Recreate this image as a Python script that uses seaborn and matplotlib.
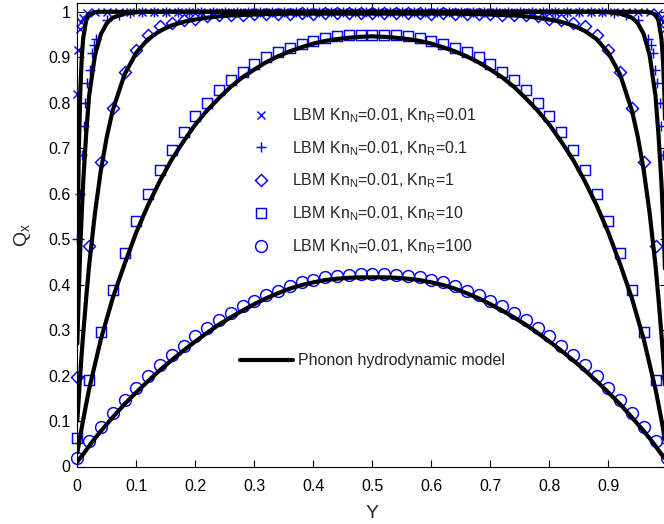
import matplotlib
matplotlib.use('Agg')
import matplotlib.pyplot as plt
import seaborn as sns
from matplotlib.ticker import FormatStrFormatter, MultipleLocator

# LBM grid (circles, squares, diamonds)
y_lbm = [0.00, 0.02, 0.04, 0.06, 0.08, 0.10, 0.12, 0.14, 0.16, 0.18, 0.20, 0.22, 0.24,
         0.26, 0.28, 0.30, 0.32, 0.34, 0.36, 0.38, 0.40, 0.42, 0.44, 0.46, 0.48, 0.50,
         0.52, 0.54, 0.56, 0.58, 0.60, 0.62, 0.64, 0.66, 0.68, 0.70, 0.72, 0.74, 0.76,
         0.78, 0.80, 0.82, 0.84, 0.86, 0.88, 0.90, 0.92, 0.94, 0.96, 0.98, 1.00]

q_lbm_kr100 = [0.019, 0.055, 0.086, 0.117, 0.146, 0.172, 0.198, 0.224, 0.246, 0.265, 0.286, 0.304, 0.323,
               0.337, 0.352, 0.365, 0.378, 0.387, 0.398, 0.406, 0.411, 0.416, 0.420, 0.422, 0.424, 0.424,
               0.424, 0.422, 0.420, 0.416, 0.411, 0.406, 0.398, 0.387, 0.378, 0.365, 0.352, 0.337, 0.323,
               0.304, 0.286, 0.265, 0.246, 0.224, 0.198, 0.172, 0.146, 0.117, 0.086, 0.055, 0.019]

q_lbm_kr10 = [0.063, 0.190, 0.295, 0.389, 0.470, 0.539, 0.600, 0.651, 0.697, 0.736, 0.770, 0.800, 0.827,
              0.849, 0.868, 0.886, 0.900, 0.911, 0.921, 0.930, 0.936, 0.942, 0.946, 0.948, 0.949, 0.949,
              0.949, 0.948, 0.946, 0.942, 0.936, 0.930, 0.921, 0.911, 0.900, 0.886, 0.868, 0.849, 0.827,
              0.800, 0.770, 0.736, 0.697, 0.651, 0.600, 0.539, 0.470, 0.389, 0.295, 0.190, 0.063]

q_lbm_kr1 = [0.197, 0.485, 0.670, 0.789, 0.867, 0.916, 0.948, 0.969, 0.975, 0.982, 0.985, 0.990, 0.992,
             0.994, 0.993, 0.995, 0.996, 0.995, 0.996, 0.997, 0.996, 0.997, 0.997, 0.997, 0.997, 0.997,
             0.997, 0.997, 0.997, 0.997, 0.996, 0.997, 0.996, 0.995, 0.996, 0.995, 0.993, 0.994, 0.992,
             0.990, 0.985, 0.982, 0.975, 0.969, 0.948, 0.916, 0.867, 0.789, 0.670, 0.485, 0.197]

# LBM, Kn_R = 0.1 (finer near the walls)
y_lbm_kr01 = [0.000, 0.004, 0.008, 0.011, 0.013, 0.017, 0.021, 0.025, 0.028, 0.032, 0.05, 0.07, 0.09, 0.11,
              0.13, 0.15, 0.17, 0.19, 0.21, 0.23, 0.25, 0.27, 0.29, 0.31, 0.33, 0.35, 0.37, 0.39, 0.41,
              0.43, 0.45, 0.47, 0.49, 0.51, 0.53, 0.55, 0.57, 0.59, 0.61, 0.63, 0.65, 0.67, 0.69, 0.71,
              0.73, 0.75, 0.77, 0.79, 0.81, 0.83, 0.85, 0.87, 0.89, 0.91, 0.93, 0.95,
              0.968, 0.972, 0.975, 0.979, 0.983, 0.987, 0.989, 0.992, 0.996, 1.000]
q_lbm_kr01 = [0.500, 0.600, 0.686, 0.748, 0.800, 0.843, 0.873, 0.910, 0.926, 0.940, 0.983, 0.993, 0.997, 0.999,
              1.0, 1.0, 1.0, 1.0, 1.0, 1.0, 1.0, 1.0, 1.0, 1.0, 1.0, 1.0, 1.0, 1.0, 1.0,
              1.0, 1.0, 1.0, 1.0, 1.0, 1.0, 1.0, 1.0, 1.0, 1.0, 1.0, 1.0, 1.0, 1.0, 1.0,
              1.0, 1.0, 1.0, 1.0, 1.0, 1.0, 1.0, 1.0, 0.999, 0.997, 0.993, 0.983,
              0.940, 0.926, 0.910, 0.873, 0.843, 0.800, 0.748, 0.686, 0.600, 0.500]

# LBM, Kn_R = 0.01
y_lbm_kr001 = [0.000, 0.0015, 0.004, 0.007, 0.010, 0.016, 0.03, 0.05, 0.07, 0.09, 0.11,
               0.13, 0.15, 0.17, 0.19, 0.21, 0.23, 0.25, 0.27, 0.29, 0.31, 0.33, 0.35, 0.37, 0.39, 0.41,
               0.43, 0.45, 0.47, 0.49, 0.51, 0.53, 0.55, 0.57, 0.59, 0.61, 0.63, 0.65, 0.67, 0.69, 0.71,
               0.73, 0.75, 0.77, 0.79, 0.81, 0.83, 0.85, 0.87, 0.89, 0.91, 0.93, 0.95, 0.97,
               0.984, 0.990, 0.993, 0.996, 0.9985, 1.000]
q_lbm_kr001 = [0.820, 0.917, 0.963, 0.977, 0.987, 0.997, 1.0, 1.0, 1.0, 1.0, 1.0,
               1.0, 1.0, 1.0, 1.0, 1.0, 1.0, 1.0, 1.0, 1.0, 1.0, 1.0, 1.0, 1.0, 1.0, 1.0,
               1.0, 1.0, 1.0, 1.0, 1.0, 1.0, 1.0, 1.0, 1.0, 1.0, 1.0, 1.0, 1.0, 1.0, 1.0,
               1.0, 1.0, 1.0, 1.0, 1.0, 1.0, 1.0, 1.0, 1.0, 1.0, 1.0, 1.0, 1.0,
               0.997, 0.987, 0.977, 0.963, 0.917, 0.820]

# phonon hydrodynamic model curves
y_model = [0.0, 0.0025, 0.005, 0.0075, 0.01, 0.015, 0.02, 0.03, 0.04, 0.05, 0.06, 0.08, 0.10,
           0.12, 0.14, 0.16, 0.18, 0.20, 0.22, 0.24, 0.26, 0.28, 0.30, 0.32, 0.34, 0.36, 0.38,
           0.40, 0.42, 0.44, 0.46, 0.48, 0.50, 0.52, 0.54, 0.56, 0.58, 0.60, 0.62, 0.64, 0.66,
           0.68, 0.70, 0.72, 0.74, 0.76, 0.78, 0.80, 0.82, 0.84, 0.86, 0.88, 0.90, 0.92, 0.94,
           0.95, 0.96, 0.97, 0.98, 0.985, 0.99, 0.9925, 0.995, 0.9975, 1.0]

q_model_kr001 = [0.46, 0.69, 0.822, 0.898, 0.942, 0.981, 0.994, 0.999, 1.0, 1.0, 1.0, 1.0, 1.0,
                 1.0, 1.0, 1.0, 1.0, 1.0, 1.0, 1.0, 1.0, 1.0, 1.0, 1.0, 1.0, 1.0, 1.0,
                 1.0, 1.0, 1.0, 1.0, 1.0, 1.0, 1.0, 1.0, 1.0, 1.0, 1.0, 1.0, 1.0, 1.0,
                 1.0, 1.0, 1.0, 1.0, 1.0, 1.0, 1.0, 1.0, 1.0, 1.0, 1.0, 1.0, 1.0, 1.0,
                 1.0, 1.0, 0.999, 0.994, 0.981, 0.942, 0.898, 0.822, 0.69, 0.46]

q_model_kr01 = [0.27, 0.382, 0.477, 0.557, 0.625, 0.731, 0.815, 0.905, 0.951, 0.975, 0.987, 0.996, 0.999,
                1.0, 1.0, 1.0, 1.0, 1.0, 1.0, 1.0, 1.0, 1.0, 1.0, 1.0, 1.0, 1.0, 1.0,
                1.0, 1.0, 1.0, 1.0, 1.0, 1.0, 1.0, 1.0, 1.0, 1.0, 1.0, 1.0, 1.0, 1.0,
                1.0, 1.0, 1.0, 1.0, 1.0, 1.0, 1.0, 1.0, 1.0, 1.0, 1.0, 0.999, 0.996, 0.987,
                0.975, 0.951, 0.905, 0.815, 0.731, 0.625, 0.557, 0.477, 0.382, 0.27]

q_model_kr1 = [0.10, 0.152, 0.202, 0.25, 0.291, 0.37, 0.442, 0.558, 0.652, 0.725, 0.783, 0.862, 0.91,
               0.94, 0.958, 0.97, 0.978, 0.983, 0.987, 0.99, 0.992, 0.993, 0.994, 0.995, 0.995, 0.996, 0.996,
               0.996, 0.996, 0.996, 0.996, 0.996, 0.996, 0.996, 0.996, 0.996, 0.996, 0.996, 0.996, 0.996, 0.995,
               0.995, 0.994, 0.993, 0.992, 0.99, 0.987, 0.983, 0.978, 0.97, 0.958, 0.94, 0.91, 0.862, 0.783,
               0.725, 0.652, 0.558, 0.442, 0.37, 0.291, 0.25, 0.202, 0.152, 0.10]

q_model_kr10 = [0.03, 0.049, 0.067, 0.085, 0.103, 0.137, 0.17, 0.225, 0.28, 0.325, 0.37, 0.445, 0.515,
                0.575, 0.628, 0.675, 0.715, 0.752, 0.783, 0.81, 0.835, 0.856, 0.873, 0.889, 0.902, 0.913, 0.922,
                0.93, 0.936, 0.94, 0.943, 0.945, 0.946, 0.945, 0.943, 0.94, 0.936, 0.93, 0.922, 0.913, 0.902,
                0.889, 0.873, 0.856, 0.835, 0.81, 0.783, 0.752, 0.715, 0.675, 0.628, 0.575, 0.515, 0.445, 0.37,
                0.325, 0.28, 0.225, 0.17, 0.137, 0.103, 0.085, 0.067, 0.049, 0.03]

q_model_kr100 = [0.01, 0.015, 0.019, 0.023, 0.027, 0.036, 0.045, 0.062, 0.078, 0.093, 0.108, 0.137, 0.163,
                 0.188, 0.212, 0.234, 0.255, 0.275, 0.294, 0.312, 0.328, 0.343, 0.357, 0.37, 0.381, 0.391, 0.399,
                 0.405, 0.41, 0.413, 0.415, 0.416, 0.416, 0.416, 0.415, 0.413, 0.41, 0.405, 0.399, 0.391, 0.381,
                 0.37, 0.357, 0.343, 0.328, 0.312, 0.294, 0.275, 0.255, 0.234, 0.212, 0.188, 0.163, 0.137, 0.108,
                 0.093, 0.078, 0.062, 0.045, 0.036, 0.027, 0.023, 0.019, 0.015, 0.01]

lbm_labels = ['LBM Kn$_\\mathrm{N}$=0.01, Kn$_\\mathrm{R}$=0.01',
              'LBM Kn$_\\mathrm{N}$=0.01, Kn$_\\mathrm{R}$=0.1',
              'LBM Kn$_\\mathrm{N}$=0.01, Kn$_\\mathrm{R}$=1',
              'LBM Kn$_\\mathrm{N}$=0.01, Kn$_\\mathrm{R}$=10',
              'LBM Kn$_\\mathrm{N}$=0.01, Kn$_\\mathrm{R}$=100']
model_label = 'Phonon hydrodynamic model'

sns.set_style('ticks')
plt.rcParams['font.family'] = ['Liberation Sans', 'DejaVu Sans']
plt.rcParams['mathtext.fontset'] = 'custom'
plt.rcParams['mathtext.rm'] = 'Liberation Sans'
plt.rcParams['mathtext.it'] = 'Liberation Sans:italic'

fig = plt.figure(figsize=(6.64, 5.24), dpi=100)
ax = fig.add_axes([77.3 / 664, 57.5 / 524, 590 / 664, 463.8 / 524])

lbm_series = [
    (y_lbm_kr001, q_lbm_kr001, 'x', 6.0),
    (y_lbm_kr01, q_lbm_kr01, '+', 7.0),
    (y_lbm, q_lbm_kr1, 'D', 6.6),
    (y_lbm, q_lbm_kr10, 's', 6.6),
    (y_lbm, q_lbm_kr100, 'o', 8.5),
]
handles = []
for (yy, qq, mk, ms), lab in zip(lbm_series, lbm_labels):
    sns.lineplot(x=yy, y=qq, ax=ax, linestyle='', marker=mk, markersize=ms,
                 markerfacecolor='none', markeredgecolor='#0000ff', markeredgewidth=1.05,
                 color='#0000ff', estimator=None, sort=False, legend=False, clip_on=False)
    h = ax.lines[-1]
    h.set_markeredgecolor('#0000ff')
    h.set_markerfacecolor('none')
    h.set_label(lab)
    handles.append(h)

for qq in [q_model_kr001, q_model_kr01, q_model_kr1, q_model_kr10, q_model_kr100]:
    sns.lineplot(x=y_model, y=qq, ax=ax, color='black', linewidth=3,
                 estimator=None, sort=False, legend=False)
model_line = ax.lines[-1]

ax.set_xlim(0, 1)
ax.set_ylim(0, 1.02)
ax.xaxis.set_major_locator(MultipleLocator(0.1))
ax.yaxis.set_major_locator(MultipleLocator(0.1))
ax.xaxis.set_major_formatter(FormatStrFormatter('%g'))
ax.yaxis.set_major_formatter(FormatStrFormatter('%g'))
ax.tick_params(direction='in', top=True, right=True, length=5, width=0.8,
               labelsize=11.5, colors='black')
ax.tick_params(axis='x', pad=9)
ax.tick_params(axis='y', pad=5)
for sp in ax.spines.values():
    sp.set_linewidth(0.8)
    sp.set_color('black')

ax.set_xlabel('Y', fontsize=14, labelpad=8)
ax.set_ylabel('Q$_\\mathrm{x}$', fontsize=14, labelpad=11)

leg1 = ax.legend(handles=handles, loc='center left',
                 bbox_to_anchor=(249.2 / 664, (524 - 181) / 524),
                 bbox_transform=fig.transFigure, frameon=False, fontsize=11.5,
                 handlelength=1.5, handletextpad=1.2, labelspacing=0.88,
                 borderpad=0, borderaxespad=0)
ax.add_artist(leg1)
ax.legend(handles=[model_line], labels=[model_label], loc='center left',
          bbox_to_anchor=(240 / 664, (524 - 361) / 524),
          bbox_transform=fig.transFigure, frameon=False, fontsize=11.5,
          handlelength=3.3, handletextpad=0.35, borderpad=0, borderaxespad=0)

fig.savefig('out.png', dpi=100)
